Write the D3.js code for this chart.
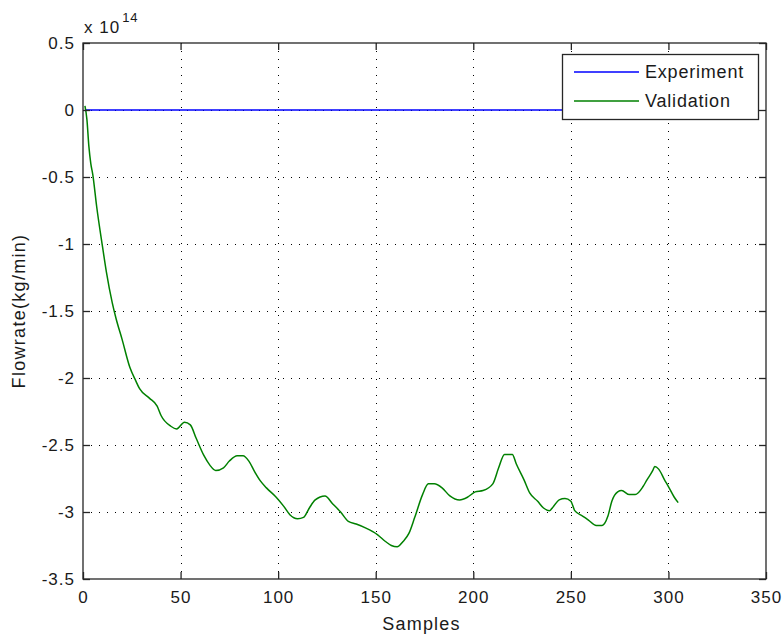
<!DOCTYPE html>
<html>
<head>
<meta charset="utf-8">
<script src="https://cdn.jsdelivr.net/npm/d3@7"></script>
<style>
  html, body { margin: 0; padding: 0; background: #fff; }
  svg { display: block; font-family: "Liberation Sans", Arial, sans-serif; }
</style>
</head>
<body>
<svg id="chart" width="782" height="639"></svg>
<script>
// Tick values and labels
const xTicks = [0, 50, 100, 150, 200, 250, 300, 350];
const xTickLabels = ["0", "50", "100", "150", "200", "250", "300", "350"];
const yTicks = [0.5, 0, -0.5, -1, -1.5, -2, -2.5, -3, -3.5];
const yTickLabels = ["0.5", "0", "-0.5", "-1", "-1.5", "-2", "-2.5", "-3", "-3.5"];

// Experiment series (flat at zero), in units of 1e14 kg/min
const experimentSamples = [1, 305];
const experimentValues = [0, 0];

// Validation series, in units of 1e14 kg/min
const validationSamples = [1, 2, 3, 4, 5, 7, 10, 12, 15, 17, 20, 24, 27, 29, 34, 38, 40, 45, 48, 52,
  55, 58, 62, 65, 68, 72, 75, 79, 82, 85, 88, 91, 94, 99, 103, 106, 110, 113, 116, 119,
  124, 128, 132, 136, 140, 145, 151, 155, 158, 161, 164, 167, 170, 174, 177, 180, 184, 188, 193, 197,
  201, 205, 210, 213, 216, 220, 222, 226, 229, 233, 236, 239, 241, 244, 247, 250, 252, 256, 259, 263,
  266, 269, 271, 274, 276, 280, 283, 287, 289, 292, 293, 295, 298, 300, 303, 305];
const validationValues = [0.03, -0.07, -0.27, -0.40, -0.48, -0.72, -1.02, -1.21, -1.44, -1.56, -1.71, -1.92, -2.02, -2.08, -2.15, -2.21, -2.28, -2.36, -2.38, -2.33,
  -2.35, -2.45, -2.58, -2.65, -2.69, -2.67, -2.62, -2.58, -2.58, -2.62, -2.70, -2.77, -2.82, -2.89, -2.96, -3.02, -3.05, -3.04, -2.97, -2.91,
  -2.88, -2.94, -3.00, -3.07, -3.09, -3.12, -3.17, -3.22, -3.25, -3.26, -3.22, -3.16, -3.04, -2.87, -2.79, -2.79, -2.82, -2.88, -2.91, -2.89,
  -2.85, -2.84, -2.79, -2.67, -2.57, -2.57, -2.64, -2.76, -2.86, -2.92, -2.97, -2.99, -2.96, -2.91, -2.90, -2.92, -2.99, -3.03, -3.06, -3.10,
  -3.10, -3.03, -2.92, -2.85, -2.84, -2.87, -2.87, -2.81, -2.76, -2.69, -2.66, -2.68, -2.76, -2.81, -2.89, -2.93];

const seriesNames = ["Experiment", "Validation"];
const seriesColors = ["#0000ff", "#008000"];

const plot = { left: 83, right: 766, top: 43, bottom: 579 };
const textColor = "#1a1a1a";
const svg = d3.select("#chart");

const x = d3.scaleLinear().domain([0, 350]).range([plot.left, plot.right]);
const y = d3.scaleLinear().domain([-3.5, 0.5]).range([plot.bottom, plot.top]);

// Dotted grid
const grid = svg.append("g").attr("stroke", "#000").attr("stroke-width", 1)
  .attr("stroke-dasharray", "1,7").attr("shape-rendering", "crispEdges");
grid.selectAll("line.vx").data(xTicks.slice(1, -1)).join("line")
  .attr("x1", d => Math.round(x(d)) + 0.5).attr("x2", d => Math.round(x(d)) + 0.5)
  .attr("y1", plot.top).attr("y2", plot.bottom);
grid.selectAll("line.hy").data(yTicks.slice(1, -1)).join("line")
  .attr("x1", plot.left).attr("x2", plot.right)
  .attr("y1", d => Math.round(y(d)) + 0.5).attr("y2", d => Math.round(y(d)) + 0.5);

// Series lines
const line = d3.line().x(d => x(d[0])).y(d => y(d[1])).curve(d3.curveMonotoneX);
svg.append("path")
  .datum(experimentSamples.map((s, i) => [s, experimentValues[i]]))
  .attr("fill", "none").attr("stroke", seriesColors[0]).attr("stroke-width", 1.5)
  .attr("d", line);
svg.append("path")
  .datum(validationSamples.map((s, i) => [s, validationValues[i]]))
  .attr("fill", "none").attr("stroke", seriesColors[1]).attr("stroke-width", 1.5)
  .attr("d", line);

// Axes: box with inward ticks on all four sides
const tickLen = 7;
const axisColor = "#262626";
svg.append("g").attr("transform", `translate(0,${plot.bottom})`)
  .call(d3.axisBottom(x).tickValues(xTicks).tickSize(-tickLen).tickFormat((d, i) => xTickLabels[i]).tickPadding(12))
  .call(g => g.select(".domain").remove());
svg.append("g").attr("transform", `translate(0,${plot.top})`)
  .call(d3.axisTop(x).tickValues(xTicks).tickSize(-tickLen).tickFormat(""))
  .call(g => g.select(".domain").remove());
svg.append("g").attr("transform", `translate(${plot.left},0)`)
  .call(d3.axisLeft(y).tickValues(yTicks).tickSize(-tickLen).tickFormat((d, i) => yTickLabels[i]).tickPadding(8))
  .call(g => g.select(".domain").remove());
svg.append("g").attr("transform", `translate(${plot.right},0)`)
  .call(d3.axisRight(y).tickValues(yTicks).tickSize(-tickLen).tickFormat(""))
  .call(g => g.select(".domain").remove());

svg.selectAll(".tick line").attr("stroke", axisColor).attr("stroke-width", 1.3);
svg.selectAll(".tick text").attr("fill", textColor).style("font-size", "17px")
  .style("letter-spacing", "1px")
  .style("font-family", "'Liberation Sans', Arial, sans-serif");

svg.append("rect")
  .attr("x", plot.left).attr("y", plot.top)
  .attr("width", plot.right - plot.left).attr("height", plot.bottom - plot.top)
  .attr("fill", "none").attr("stroke", axisColor).attr("stroke-width", 1.3);

// Exponent label
const expo = svg.append("text").attr("x", plot.left + 1).attr("y", 33)
  .attr("fill", textColor).style("font-size", "17px").style("letter-spacing", "1px");
expo.append("tspan").text("x 10");
expo.append("tspan").attr("dx", 2).attr("dy", -11).style("font-size", "13px").text("14");

// Axis titles
svg.append("text").attr("x", (plot.left + plot.right) / 2 - 3).attr("y", 630)
  .attr("text-anchor", "middle").attr("fill", textColor)
  .style("font-size", "18px").style("letter-spacing", "1.2px").text("Samples");
svg.append("text")
  .attr("transform", `translate(25,${(plot.top + plot.bottom) / 2}) rotate(-90)`)
  .attr("text-anchor", "middle").attr("fill", textColor)
  .style("font-size", "18px").style("letter-spacing", "1.3px").text("Flowrate(kg/min)");

// Legend
const legend = svg.append("g");
legend.append("rect").attr("x", 562.5).attr("y", 54.5).attr("width", 196).attr("height", 65)
  .attr("fill", "#fff").attr("stroke", axisColor).attr("stroke-width", 1.3);
const rowY = [72, 101];
seriesNames.forEach((name, i) => {
  legend.append("line").attr("x1", 574).attr("x2", 639).attr("y1", rowY[i]).attr("y2", rowY[i])
    .attr("stroke", seriesColors[i]).attr("stroke-width", 1.5);
  legend.append("text").attr("x", 645).attr("y", rowY[i]).attr("dy", "0.35em")
    .attr("fill", textColor).style("font-size", "18px").style("letter-spacing", "0.8px").text(name);
});
</script>
</body>
</html>
